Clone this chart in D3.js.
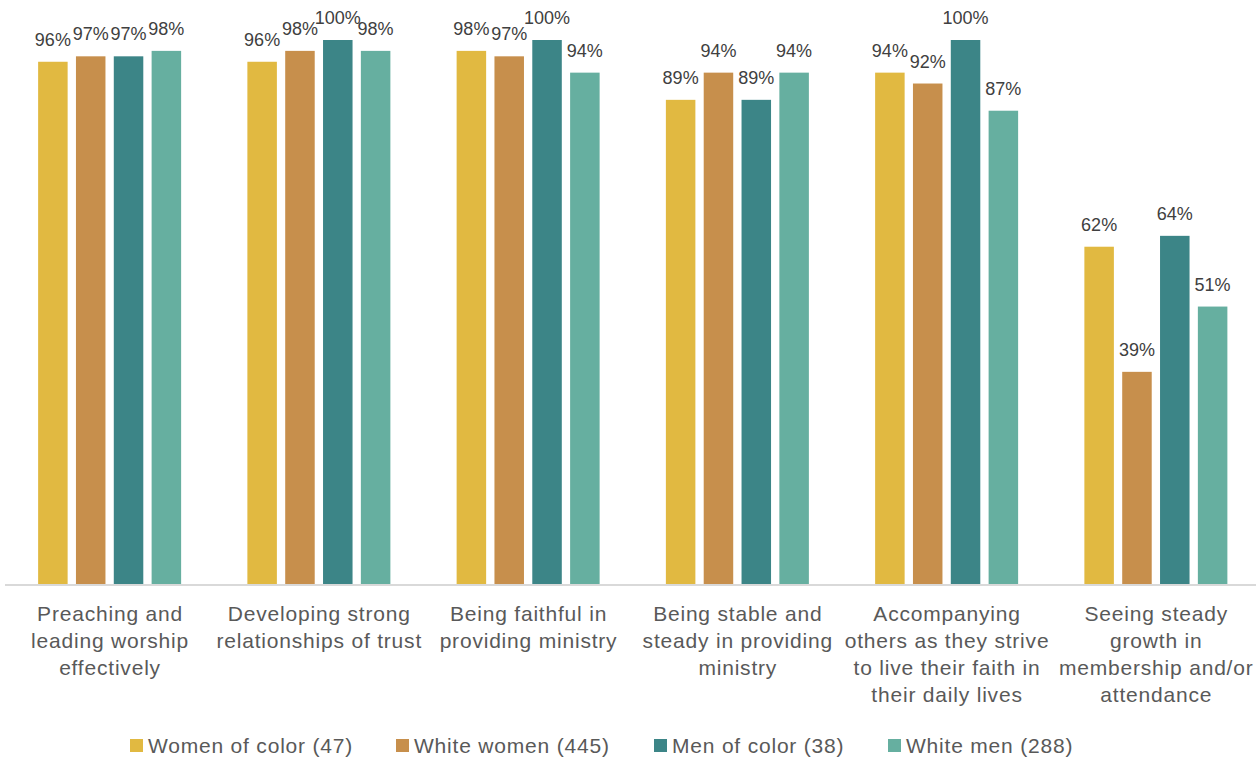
<!DOCTYPE html>
<html>
<head>
<meta charset="utf-8">
<script src="https://cdn.jsdelivr.net/npm/d3@7"></script>
<style>
  html, body { margin: 0; padding: 0; background: #fff; }
  svg { display: block; }
  text { font-family: "Liberation Sans", Arial, sans-serif; }
</style>
</head>
<body>
<svg id="chart" width="1256" height="757"></svg>
<script>
// ---- Data ----
const categories = [
  "Preaching and leading worship effectively",
  "Developing strong relationships of trust",
  "Being faithful in providing ministry",
  "Being stable and steady in providing ministry",
  "Accompanying others as they strive to live their faith in their daily lives",
  "Seeing steady growth in membership and/or attendance"
];
const categoryLines = [
  ["Preaching and", "leading worship", "effectively"],
  ["Developing strong", "relationships of trust"],
  ["Being faithful in", "providing ministry"],
  ["Being stable and", "steady in providing", "ministry"],
  ["Accompanying", "others as they strive", "to live their faith in", "their daily lives"],
  ["Seeing steady", "growth in", "membership and/or", "attendance"]
];
const seriesNames = ["Women of color (47)", "White women (445)", "Men of color (38)", "White men (288)"];
const womenOfColor = [96, 96, 98, 89, 94, 62];
const whiteWomen   = [97, 98, 97, 94, 92, 39];
const menOfColor   = [97, 100, 100, 89, 100, 64];
const whiteMen     = [98, 98, 94, 94, 87, 51];
const seriesValues = [womenOfColor, whiteWomen, menOfColor, whiteMen];
const colors = ["#E1B941", "#C78F4C", "#3C8587", "#66AFA0"];

// ---- Layout ----
const svg = d3.select("#chart");
const baseY = 584, topY = 40;
const y = d3.scaleLinear().domain([0, 100]).range([baseY, topY]);
const x0 = d3.scaleBand().domain(categories).range([5, 1260.5]).padding(0);
const groupSpan = 143;
const x1 = d3.scaleBand().domain(seriesNames)
  .range([(x0.bandwidth() - groupSpan) / 2, (x0.bandwidth() + groupSpan) / 2])
  .paddingInner(0.22).paddingOuter(0);

// axis line
svg.append("line")
  .attr("x1", 5).attr("x2", 1256)
  .attr("y1", baseY + 1).attr("y2", baseY + 1)
  .attr("stroke", "#d9d9d9").attr("stroke-width", 2);

// bars
const groups = svg.selectAll("g.grp")
  .data(categories)
  .join("g")
  .attr("class", "grp")
  .attr("transform", d => `translate(${x0(d)},0)`);

groups.each(function(cat, ci) {
  const g = d3.select(this);
  const rows = seriesNames.map((s, si) => ({ s, si, v: seriesValues[si][ci] }));
  g.selectAll("rect").data(rows).join("rect")
    .attr("x", d => x1(d.s))
    .attr("width", x1.bandwidth())
    .attr("y", d => y(d.v))
    .attr("height", d => baseY - y(d.v))
    .attr("fill", d => colors[d.si]);
  g.selectAll("text.val").data(rows).join("text")
    .attr("class", "val")
    .attr("x", d => x1(d.s) + x1.bandwidth() / 2)
    .attr("y", d => y(d.v) - 16)
    .attr("text-anchor", "middle")
    .attr("font-size", 18)
    .attr("fill", "#404040")
    .text(d => d.v + "%");
});

// category labels
categories.forEach((cat, ci) => {
  const cx = x0(cat) + x0.bandwidth() / 2;
  const t = svg.append("text")
    .attr("text-anchor", "middle")
    .attr("font-size", 21)
    .attr("letter-spacing", 0.8)
    .attr("fill", "#595959");
  categoryLines[ci].forEach((line, li) => {
    t.append("tspan").attr("x", cx + 0.4).attr("y", 621 + li * 27).text(line);
  });
});

// legend
const legendX = [130, 396, 654, 888];
const lg = svg.selectAll("g.leg").data(seriesNames).join("g")
  .attr("class", "leg")
  .attr("transform", (d, i) => `translate(${legendX[i]},739)`);
lg.append("rect").attr("width", 13).attr("height", 13).attr("fill", (d, i) => colors[i]);
lg.append("text").attr("x", 18).attr("y", 13.5)
  .attr("font-size", 21).attr("letter-spacing", 0.8)
  .attr("fill", "#595959").text(d => d);
</script>
</body>
</html>
